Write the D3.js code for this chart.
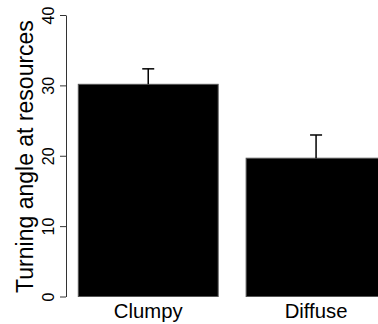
<!DOCTYPE html>
<head>
<meta charset="utf-8">
<style>
  body { margin: 0; background: #fff; }
  svg text { font-family: 'Liberation Sans', Arial, sans-serif; fill: #000; }
</style>
</head>
<body>
<svg width="378" height="324"></svg>
<script src="https://cdn.jsdelivr.net/npm/d3@7"></script>
<script>

var categories = ["Clumpy", "Diffuse"];
var means = [30.15, 19.65];
var upper = [32.35, 22.95];
var yTicks = [0, 10, 20, 30, 40];

var svg = d3.select("svg");

var y = d3.scaleLinear().domain([0, 40]).range([296.5, 15]);

// R barplot: width 1, space 0.2 -> inner padding 1/6
var x = d3.scaleBand()
    .domain(categories)
    .range([78.3, 386])
    .paddingInner(1 / 6)
    .paddingOuter(0);

// bars
svg.selectAll(".bar")
  .data(categories)
  .enter().append("rect")
    .attr("class", "bar")
    .attr("x", function(d) { return x(d); })
    .attr("y", function(d, i) { return y(means[i]); })
    .attr("width", x.bandwidth())
    .attr("height", function(d, i) { return y(0) - y(means[i]); })
    .attr("fill", "#000")
    .attr("stroke", "#555")
    .attr("stroke-width", 1);

// error bars (upper only)
var eb = svg.selectAll(".err")
  .data(categories)
  .enter().append("g")
    .attr("class", "err")
    .attr("transform", function(d) { return "translate(" + (x(d) + x.bandwidth() / 2) + ",0)"; });

eb.append("line")
    .attr("x1", 0).attr("x2", 0)
    .attr("y1", function(d, i) { return y(means[i]); })
    .attr("y2", function(d, i) { return y(upper[i]); })
    .attr("stroke", "#000").attr("stroke-width", 1.5);

eb.append("line")
    .attr("x1", -6).attr("x2", 6)
    .attr("y1", function(d, i) { return y(upper[i]); })
    .attr("y2", function(d, i) { return y(upper[i]); })
    .attr("stroke", "#000").attr("stroke-width", 1.5);

// y axis
var yAxis = svg.append("g")
    .attr("transform", "translate(66,0)")
    .call(d3.axisLeft(y).tickValues(yTicks).tickSize(6).tickSizeOuter(0).tickPadding(0));

yAxis.select(".domain").attr("stroke", "#333");
yAxis.selectAll(".tick line").attr("stroke", "#333");
yAxis.selectAll(".tick text")
    .attr("font-size", 16)
    .attr("text-anchor", "middle")
    .attr("x", 0)
    .attr("dy", 0)
    .attr("transform", "translate(-12.5,0) rotate(-90)");

// category labels
svg.selectAll(".cat")
  .data(categories)
  .enter().append("text")
    .attr("class", "cat")
    .attr("x", function(d) { return x(d) + x.bandwidth() / 2; })
    .attr("y", 317.5)
    .attr("text-anchor", "middle")
    .attr("font-size", 20.3)
    .text(function(d) { return d; });

// axis title
svg.append("text")
    .attr("transform", "translate(33,156.5) rotate(-90)")
    .attr("text-anchor", "middle")
    .attr("font-size", 23)
    .text("Turning angle at resources");

</script>
</body>
